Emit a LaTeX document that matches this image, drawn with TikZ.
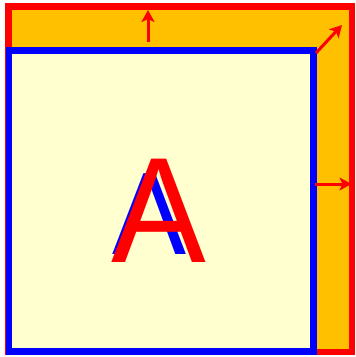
\documentclass[tikz,border=0pt]{standalone}
\usepackage{fontspec}
\setmainfont{Liberation Sans}
\usetikzlibrary{arrows.meta}
\definecolor{canvasorange}{RGB}{255,192,0}
\definecolor{canvasyellow}{RGB}{255,255,208}

\tikzset{
 frame/.style={line width=6.8pt,line join=miter},
 growarrow/.style={red,line width=3pt,-{Stealth[length=12pt,width=13pt,inset=3pt]}},
 letter/.style={inner sep=0pt,outer sep=0pt,anchor=base west}
}
\newcommand{\tallA}{\scalebox{1}[1.058]{A}}

\begin{document}
\begin{tikzpicture}[x=1pt,y=1pt]
 \useasboundingbox (0,0) rectangle (356,-357);
 % enlarged canvas
 \filldraw[frame,draw=red,fill=canvasorange] (8.5,-6.5) rectangle (352,-352);
 % original canvas
 \filldraw[frame,draw=blue,fill=canvasyellow] (9,-50.5) rectangle (313.5,-351.5);
 \node[letter,blue,font=\fontsize{111}{111}\selectfont] (oldA) at (112.3,-254) {\tallA};
 \node[letter,red,font=\fontsize{142}{142}\selectfont] (newA) at (111.7,-262.7) {\tallA};
 % growth directions
 \coordinate (upS) at (148,-42);   \coordinate (upE) at (148,-10);
 \coordinate (diS) at (316,-53);   \coordinate (diE) at (342,-25);
 \coordinate (rtS) at (315,-184);  \coordinate (rtE) at (351.5,-184);
 \draw[growarrow] (upS) -- (upE);
 \draw[growarrow] (diS) -- (diE);
 \draw[growarrow] (rtS) -- (rtE);
\end{tikzpicture}
\end{document}
